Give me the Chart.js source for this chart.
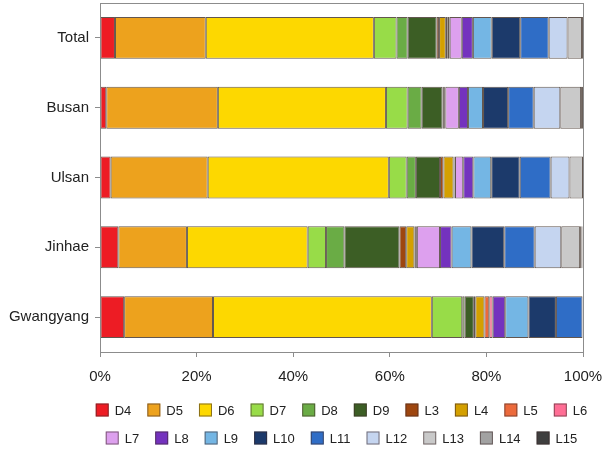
<!DOCTYPE html>
<html>
<head>
<meta charset="utf-8">
<script src="https://cdn.jsdelivr.net/npm/chart.js@4.4.1/dist/chart.umd.min.js"></script>
<style>
  html, body { margin: 0; padding: 0; background: #fff; }
  #wrap { width: 605px; height: 451px; }
</style>
</head>
<body>
<div id="wrap"><canvas id="chart"></canvas></div>
<script>
// categories, top to bottom
const sites = ['Total', 'Busan', 'Ulsan', 'Jinhae', 'Gwangyang'];
const xTicks = [0, 20, 40, 60, 80, 100];

// shares (%) per site: [Total, Busan, Ulsan, Jinhae, Gwangyang]
const D4  = [3.1, 1.3, 2.2, 3.8, 5.0];
const D5  = [18.8, 23.1, 20.1, 14.2, 18.4];
const D6  = [34.8, 34.8, 37.5, 25.0, 45.3];
const D7  = [4.7, 4.5, 3.7, 3.8, 6.3];
const D8  = [2.3, 2.9, 1.9, 3.8, 0.5];
const D9  = [6.0, 4.3, 5.0, 11.4, 1.9];
const L3  = [0.5, 0.3, 0.7, 1.4, 0.3];
const L4  = [1.4, 0.2, 2.1, 1.7, 1.9];
const L5  = [0.4, 0.0, 0.2, 0.3, 1.0];
const L6  = [0.4, 0.1, 0.1, 0.2, 0.7];
const L7  = [2.5, 2.8, 1.7, 4.8, 0.0];
const L8  = [2.3, 1.9, 2.1, 2.4, 2.6];
const L9  = [3.9, 3.1, 3.7, 4.1, 4.8];
const L10 = [5.9, 5.2, 5.9, 6.8, 5.7];
const L11 = [5.9, 5.3, 6.4, 6.3, 5.5];
const L12 = [3.9, 5.5, 3.9, 5.5, 0.0];
const L13 = [3.0, 4.3, 2.8, 3.9, 0.0];
const L14 = [0.2, 0.2, 0.0, 0.3, 0.0];
const L15 = [0.1, 0.2, 0.0, 0.2, 0.0];

const seriesNames = ['D4','D5','D6','D7','D8','D9','L3','L4','L5','L6','L7','L8','L9','L10','L11','L12','L13','L14','L15'];
const seriesData = [D4, D5, D6, D7, D8, D9, L3, L4, L5, L6, L7, L8, L9, L10, L11, L12, L13, L14, L15];
const seriesColors = ['#ED1C24','#EDA21D','#FDD800','#98DC48','#6AAC45','#3C5E25','#9E460F','#D4A000','#EC6A3B','#FF6E95',
                      '#DDA0EE','#7432BE','#74B6E4','#1C3A6B','#2F6DC6','#C5D5F0','#C9C9C9','#A2A2A2','#3F3F3F'];

const FONT = 'Arial, "Liberation Sans", sans-serif';
const TXT = '#222';

// plot frame (top and right edges)
const framePlugin = {
    id: 'frame',
    afterDraw(chart) {
        const {ctx, chartArea: a} = chart;
        ctx.save();
        ctx.strokeStyle = '#8c8c8c';
        ctx.lineWidth = 1;
        ctx.strokeRect(a.left + 0.5, a.top + 0.5, a.right - a.left, a.bottom - a.top);
        ctx.restore();
    }
};

// legend in two rows, centred under the plot
const legendRows = [[0,1,2,3,4,5,6,7,8,9], [10,11,12,13,14,15,16,17,18]];
const legendPlugin = {
    id: 'twoRowLegend',
    afterDraw(chart) {
        const {ctx, chartArea: a} = chart;
        const box = 13, gap = 6, after = 16;
        const rowY = [410, 438];
        const cx = (a.left + a.right) / 2;
        ctx.save();
        ctx.font = '13px ' + FONT;
        ctx.textBaseline = 'middle';
        legendRows.forEach((row, r) => {
            const widths = row.map(i => box + gap + ctx.measureText(chart.data.datasets[i].label).width);
            const total = widths.reduce((s, w) => s + w, 0) + after * (row.length - 1);
            let x = cx - total / 2;
            row.forEach((i, k) => {
                const ds = chart.data.datasets[i];
                ctx.fillStyle = ds.backgroundColor;
                ctx.fillRect(x, rowY[r] - box / 2, box, box);
                ctx.strokeStyle = 'rgba(60,40,40,0.6)';
                ctx.lineWidth = 1;
                ctx.strokeRect(x + 0.5, rowY[r] - box / 2 + 0.5, box - 1, box - 1);
                ctx.fillStyle = TXT;
                ctx.fillText(ds.label, x + box + gap, rowY[r] + 1);
                x += widths[k] + after;
            });
        });
        ctx.restore();
    }
};

const ctx = document.getElementById('chart').getContext('2d');
const chart = new Chart(ctx, {
    type: 'bar',
    plugins: [framePlugin, legendPlugin],
    data: {
        labels: sites,
        datasets: seriesNames.map((name, i) => ({
            label: name,
            data: seriesData[i],
            backgroundColor: seriesColors[i],
            borderColor: 'rgba(45,30,20,0.75)',
            borderWidth: 1,
            borderSkipped: false,
            categoryPercentage: 1,
            barPercentage: 0.6,
        })),
    },
    options: {
        indexAxis: 'y',
        responsive: true,
        maintainAspectRatio: false,
        animation: false,
        layout: {
            padding: {top: 3, right: 22, bottom: 64, left: 0}
        },
        scales: {
            x: {
                stacked: true,
                min: 0,
                max: 100,
                afterBuildTicks: (s) => { s.ticks = xTicks.map(v => ({value: v})); },
                afterFit: (s) => { s.height = 35; s.paddingLeft = 0; s.paddingRight = 0; },
                border: {display: true, color: '#8c8c8c'},
                grid: {drawOnChartArea: false, drawTicks: true, tickLength: 5, color: '#8c8c8c'},
                ticks: {
                    callback: (v) => v + '%',
                    padding: 11,
                    color: TXT,
                    font: {family: FONT, size: 15},
                    maxRotation: 0,
                },
            },
            y: {
                stacked: true,
                afterFit: (s) => { s.width = 100; s.paddingTop = 0; s.paddingBottom = 0; },
                border: {display: true, color: '#8c8c8c'},
                grid: {offset: false, drawOnChartArea: false, drawTicks: true, tickLength: 5, color: '#8c8c8c'},
                ticks: {
                    padding: 6,
                    color: TXT,
                    font: {family: FONT, size: 15},
                },
            },
        },
        plugins: {
            legend: {display: false},
            tooltip: {enabled: false},
        },
    },
});
</script>
</body>
</html>
